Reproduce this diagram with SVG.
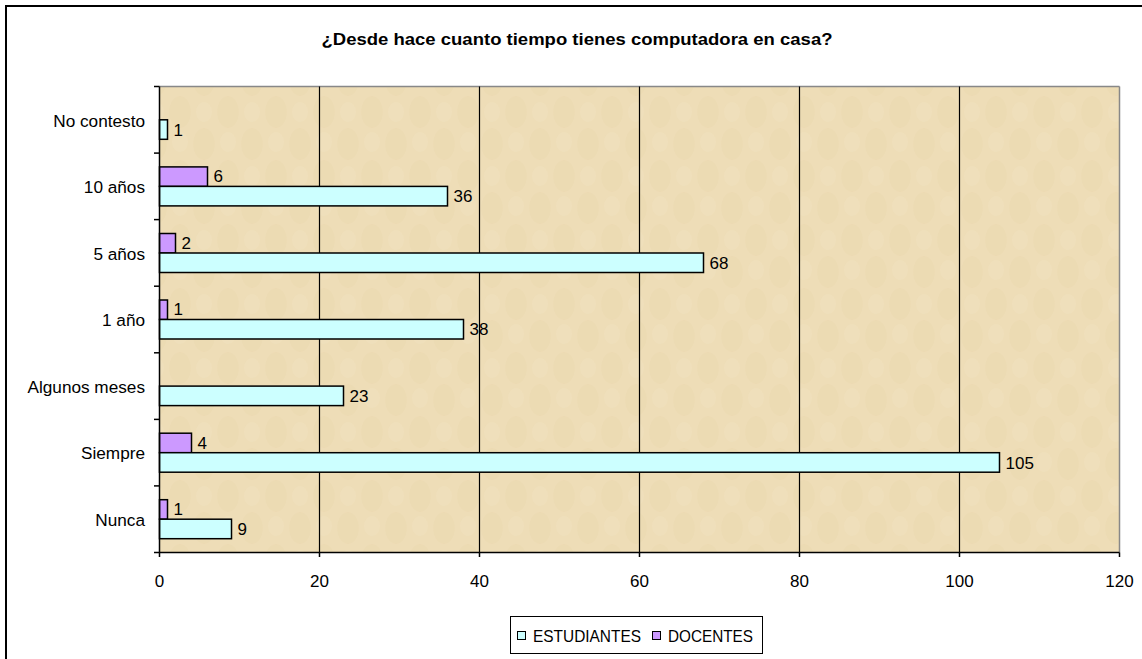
<svg xmlns="http://www.w3.org/2000/svg" width="1142" height="659" viewBox="0 0 1142 659">
<defs>
<style>
.t{font-family:"Liberation Sans",Arial,sans-serif;fill:#000}
.cat{font-size:17.2px;text-anchor:end}
.val{font-size:17px}
.ax{font-size:17px;text-anchor:middle}
.grid{stroke:#000;stroke-width:1.2}
.est{fill:#CCFFFF;stroke:#000;stroke-width:1.5}
.doc{fill:#CC99FF;stroke:#000;stroke-width:1.5}
</style>
<pattern id="tex" width="48" height="64" patternUnits="userSpaceOnUse">
<rect width="48" height="64" fill="#EEDDB7"/>
<ellipse cx="12" cy="16" rx="11" ry="16" fill="#E8D3A6" opacity="0.25"/>
<ellipse cx="36" cy="48" rx="11" ry="16" fill="#E8D3A6" opacity="0.25"/>
<ellipse cx="36" cy="14" rx="8" ry="10" fill="#F3E5C6" opacity="0.3"/>
<ellipse cx="12" cy="48" rx="8" ry="10" fill="#F3E5C6" opacity="0.3"/>
</pattern>
</defs>
<rect x="0" y="0" width="1142" height="659" fill="#fff"/>
<rect x="6" y="6" width="1142" height="660" fill="none" stroke="#000" stroke-width="2"/>
<text class="t" x="577" y="45" font-size="17" font-weight="bold" text-anchor="middle" textLength="511" lengthAdjust="spacingAndGlyphs">¿Desde hace cuanto tiempo tienes computadora en casa?</text>

<g id="plot">
<rect x="159.5" y="86.5" width="960" height="466" fill="url(#tex)"/>
<line x1="159.5" y1="86.5" x2="1119.5" y2="86.5" stroke="#888" stroke-width="1.5"/>
<line x1="1119.5" y1="86.5" x2="1119.5" y2="552.5" stroke="#888" stroke-width="1.5"/>
<g class="grid">
<line x1="319.5" y1="86.5" x2="319.5" y2="552.5"/>
<line x1="479.5" y1="86.5" x2="479.5" y2="552.5"/>
<line x1="639.5" y1="86.5" x2="639.5" y2="552.5"/>
<line x1="799.5" y1="86.5" x2="799.5" y2="552.5"/>
<line x1="959.5" y1="86.5" x2="959.5" y2="552.5"/>
</g>
</g>

<g id="bars">
<rect class="est" x="159.5" y="119.8" width="8" height="19.5"/>
<rect class="doc" x="159.5" y="166.9" width="48" height="19.5"/>
<rect class="est" x="159.5" y="186.4" width="288" height="19.5"/>
<rect class="doc" x="159.5" y="233.5" width="16" height="19.5"/>
<rect class="est" x="159.5" y="253.0" width="544" height="19.5"/>
<rect class="doc" x="159.5" y="300.0" width="8" height="19.5"/>
<rect class="est" x="159.5" y="319.5" width="304" height="19.5"/>
<rect class="est" x="159.5" y="386.1" width="184" height="19.5"/>
<rect class="doc" x="159.5" y="433.2" width="32" height="19.5"/>
<rect class="est" x="159.5" y="452.7" width="840" height="19.5"/>
<rect class="doc" x="159.5" y="499.7" width="8" height="19.5"/>
<rect class="est" x="159.5" y="519.2" width="72" height="19.5"/>
</g>

<g id="values" class="t val">
<text x="173.5" y="135.5">1</text>
<text x="213.5" y="182">6</text>
<text x="453.5" y="202">36</text>
<text x="181.5" y="248.5">2</text>
<text x="709.5" y="268.5">68</text>
<text x="173.5" y="315">1</text>
<text x="469.5" y="335">38</text>
<text x="349.5" y="401.5">23</text>
<text x="197.5" y="448.5">4</text>
<text x="1005.5" y="468.5">105</text>
<text x="173.5" y="515">1</text>
<text x="237.5" y="534.5">9</text>
</g>

<g id="axes">
<line x1="159.5" y1="86.5" x2="159.5" y2="557" stroke="#000" stroke-width="1.5"/>
<line x1="154" y1="552.5" x2="1119.5" y2="552.5" stroke="#000" stroke-width="1.5"/>
<g stroke="#000" stroke-width="1.5">
<line x1="154" y1="86.5" x2="159.5" y2="86.5"/>
<line x1="154" y1="153.1" x2="159.5" y2="153.1"/>
<line x1="154" y1="219.6" x2="159.5" y2="219.6"/>
<line x1="154" y1="286.2" x2="159.5" y2="286.2"/>
<line x1="154" y1="352.8" x2="159.5" y2="352.8"/>
<line x1="154" y1="419.4" x2="159.5" y2="419.4"/>
<line x1="154" y1="485.9" x2="159.5" y2="485.9"/>
<line x1="319.5" y1="552.5" x2="319.5" y2="557"/>
<line x1="479.5" y1="552.5" x2="479.5" y2="557"/>
<line x1="639.5" y1="552.5" x2="639.5" y2="557"/>
<line x1="799.5" y1="552.5" x2="799.5" y2="557"/>
<line x1="959.5" y1="552.5" x2="959.5" y2="557"/>
<line x1="1119.5" y1="552.5" x2="1119.5" y2="557"/>
</g>
</g>

<g id="cats" class="t cat">
<text x="145" y="126.5">No contesto</text>
<text x="145" y="193">10 años</text>
<text x="145" y="259.5">5 años</text>
<text x="145" y="326">1 año</text>
<text x="145" y="392.5">Algunos meses</text>
<text x="145" y="459">Siempre</text>
<text x="145" y="525.5">Nunca</text>
</g>

<g id="xlabels" class="t ax">
<text x="159.5" y="587">0</text>
<text x="319.5" y="587">20</text>
<text x="479.5" y="587">40</text>
<text x="639.5" y="587">60</text>
<text x="799.5" y="587">80</text>
<text x="959.5" y="587">100</text>
<text x="1119.5" y="587">120</text>
</g>

<g id="legend">
<rect x="510.5" y="616.5" width="252" height="37" fill="#fff" stroke="#000" stroke-width="1"/>
<rect x="517.5" y="631.5" width="8" height="8" fill="#CCFFFF" stroke="#000" stroke-width="1"/>
<text class="t" x="533" y="641.5" font-size="16.5" textLength="108" lengthAdjust="spacingAndGlyphs">ESTUDIANTES</text>
<rect x="652.5" y="631.5" width="8" height="8" fill="#CC99FF" stroke="#000" stroke-width="1"/>
<text class="t" x="668" y="641.5" font-size="16.5" textLength="85" lengthAdjust="spacingAndGlyphs">DOCENTES</text>
</g>
</svg>
